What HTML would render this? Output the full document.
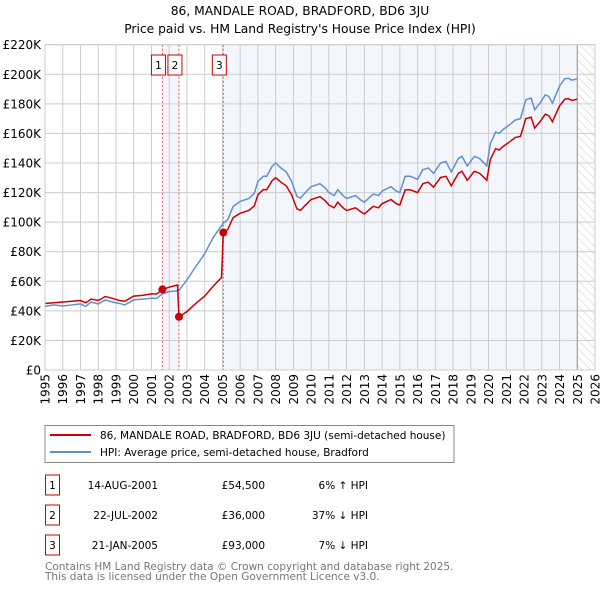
<!DOCTYPE html>
<html><head><meta charset="utf-8"><style>
body{margin:0;background:#fff;}
svg text{font-family:"DejaVu Sans","Liberation Sans",sans-serif;}
</style></head><body>
<svg id="chart" width="600" height="590" viewBox="0 0 600 590" xmlns="http://www.w3.org/2000/svg">
<text x="300" y="15" text-anchor="middle" font-size="12.3">86, MANDALE ROAD, BRADFORD, BD6 3JU</text>
<text x="300" y="33" text-anchor="middle" font-size="12.3">Price paid vs. HM Land Registry's House Price Index (HPI)</text>
<defs><pattern id="hatch" patternUnits="userSpaceOnUse" width="6" height="6" patternTransform="rotate(-45)"><line x1="0" y1="0" x2="0" y2="6" stroke="#ccc" stroke-width="1"/></pattern></defs>
<g id="plot"></g>
<g>
<rect x="45" y="425.5" width="409" height="37" fill="#fff" stroke="#888"/>
<line x1="50" y1="435" x2="91" y2="435" stroke="#cc0000" stroke-width="2"/>
<text x="100" y="439" font-size="10.5">86, MANDALE ROAD, BRADFORD, BD6 3JU (semi-detached house)</text>
<line x1="50" y1="452" x2="91" y2="452" stroke="#6090d0" stroke-width="2"/>
<text x="100" y="456" font-size="10.5">HPI: Average price, semi-detached house, Bradford</text>
</g>
<g id="table" font-size="10.5"></g>
<text x="45" y="570" font-size="10.5" fill="#777">Contains HM Land Registry data © Crown copyright and database right 2025.</text>
<text x="45" y="580" font-size="10.5" fill="#777">This data is licensed under the Open Government Licence v3.0.</text>
</svg>
<script>
const hpiYears=[1995,1995.5,1996,1996.5,1997,1997.3,1997.6,1998,1998.4,1998.8,1999.2,1999.5,2000,2000.5,2001,2001.3,2001.62,2002,2002.55,2003,2003.5,2004,2004.5,2005.05,2005.3,2005.6,2006,2006.5,2006.8,2007,2007.3,2007.5,2007.8,2008,2008.3,2008.6,2008.9,2009.2,2009.4,2009.6,2010,2010.5,2010.8,2011,2011.3,2011.5,2011.8,2012,2012.5,2012.8,2013,2013.5,2013.8,2014,2014.5,2014.8,2015,2015.3,2015.6,2016,2016.3,2016.6,2016.9,2017.3,2017.6,2017.9,2018.3,2018.5,2018.8,2019.2,2019.5,2019.9,2020.1,2020.4,2020.6,2020.8,2021.2,2021.5,2021.8,2022.1,2022.4,2022.6,2022.9,2023.2,2023.4,2023.6,2024,2024.3,2024.5,2024.7,2025];
const hpiValues=[43,44,43.3,44,44.7,43,46,44.7,47.4,46,45,44,47.4,47.9,48.5,48.5,51.5,53,53.7,61,70,78.6,90,99.3,101.6,110.6,114,116,119.6,127.5,131,131,137.7,140,136.6,134,127.5,117.4,116.3,119,124,126,123,120,118,122,118,116,118,115,113.5,119,118,121,124,121,120,131,131,129,135.5,136.6,133,140,141,134,143,144.5,138,144.5,143,138,153,161,160,162.5,166,169,170,182.7,184,176,180.5,186,185,180.5,192,197,197.3,196,197];
const priceYears=[1995,1996,1997,1997.3,1997.6,1998,1998.4,1998.8,1999.2,1999.5,2000,2000.5,2001,2001.3,2001.62,2002,2002.47,2002.55,2003,2003.5,2004,2004.5,2004.95,2005.05,2005.3,2005.6,2006,2006.5,2006.8,2007,2007.3,2007.5,2007.8,2008,2008.3,2008.6,2008.9,2009.2,2009.4,2009.6,2010,2010.5,2010.8,2011,2011.3,2011.5,2011.8,2012,2012.5,2012.8,2013,2013.5,2013.8,2014,2014.5,2014.8,2015,2015.3,2015.6,2016,2016.3,2016.6,2016.9,2017.3,2017.6,2017.9,2018.3,2018.5,2018.8,2019.2,2019.5,2019.9,2020.1,2020.4,2020.6,2020.8,2021.2,2021.5,2021.8,2022.1,2022.4,2022.6,2022.9,2023.2,2023.4,2023.6,2024,2024.3,2024.5,2024.7,2025];
const priceValues=[45,46,47,45.5,48,47,49.7,48.5,47,46.5,50,50.5,51.5,51.5,54.5,56,57.5,36,39.5,45,50,57,62.5,93,95,103,106,108,111,118.5,122,122,128,130,127,124.5,118.5,109,108,110.5,115.3,117.2,114.4,111.6,109.7,113.5,109.7,107.9,109.7,107,105.5,110.7,109.7,112.5,115.3,112.5,111.6,121.8,121.8,120,126,127,123.7,130.2,131,124.6,133,134.4,128.3,134.4,133,128.3,142.3,149.7,148.8,151,154.4,157.2,158,170,171,163.7,167.9,173,172,167.9,178.6,183.2,183.5,182.3,183.2];
const saleYears=[2001.62,2002.55,2005.05];
const saleValues=[54.5,36,93];
const saleLabels=["1","2","3"];
const saleDates=["14-AUG-2001","22-JUL-2002","21-JAN-2005"];
const salePrices=["£54,500","£36,000","£93,000"];
const saleHpi=["6% ↑ HPI","37% ↓ HPI","7% ↓ HPI"];
const yTicks=[0,20,40,60,80,100,120,140,160,180,200,220];
const yTickLabels=["£0","£20K","£40K","£60K","£80K","£100K","£120K","£140K","£160K","£180K","£200K","£220K"];
const xTicks=[1995,1996,1997,1998,1999,2000,2001,2002,2003,2004,2005,2006,2007,2008,2009,2010,2011,2012,2013,2014,2015,2016,2017,2018,2019,2020,2021,2022,2023,2024,2025,2026];
const dataEnd=2025.0;

const NS="http://www.w3.org/2000/svg";
const L=45,R=595,T=44.7,B=370,x0=1995,x1=2026,ymax=220;
const X=v=>L+(v-x0)/(x1-x0)*(R-L);
const Y=v=>B-v/ymax*(B-T);
const plot=document.getElementById('plot');
function mk(tag,attrs,parent){const e=document.createElementNS(NS,tag);for(const k in attrs)e.setAttribute(k,attrs[k]);(parent||plot).appendChild(e);return e;}
let e;
e=mk('rect',{x:X(saleYears[0]),y:T,width:X(saleYears[1])-X(saleYears[0]),height:B-T,fill:'#eef3fc',opacity:0.7});


e=mk('rect',{x:X(saleYears[2]),y:T,width:X(dataEnd)-X(saleYears[2]),height:B-T,fill:'#eef3fc',opacity:0.7});


e=mk('rect',{x:X(dataEnd),y:T,width:R-X(dataEnd),height:B-T,fill:'url(#hatch)'});


yTicks.forEach((v,i)=>{
 e=mk('line',{x1:L,x2:R,y1:Y(v),y2:Y(v),stroke:'#ccc','stroke-width':1});
 
 
 e=mk('text',{x:L-4,y:Y(v)+4.5,'text-anchor':'end','font-size':12});
 e.textContent=yTickLabels[i];
 
 
});
xTicks.forEach(v=>{
 e=mk('line',{x1:X(v),x2:X(v),y1:T,y2:B,stroke:'#ccc','stroke-width':1});
 
 
 e=mk('text',{x:0,y:0,'text-anchor':'end','font-size':12,transform:`translate(${X(v)+4.5},${B+4}) rotate(-90)`});
 e.textContent=v;
 
 
});
e=mk('line',{x1:X(dataEnd),x2:X(dataEnd),y1:T,y2:B,stroke:'#999','stroke-width':1});


saleYears.forEach((v,i)=>{
 e=mk('line',{x1:X(v),x2:X(v),y1:T,y2:B,stroke:'#ee5555','stroke-width':1,'stroke-dasharray':'2,2'});
 
 
});
e=mk('polyline',{points:hpiYears.map((t,i)=>X(t)+','+Y(hpiValues[i])).join(' '),fill:'none',stroke:'#6090d0','stroke-width':1.5});


e=mk('polyline',{points:priceYears.map((t,i)=>X(t)+','+Y(priceValues[i])).join(' '),fill:'none',stroke:'#cc0000','stroke-width':1.5});


saleYears.forEach((v,i)=>{
 e=mk('circle',{cx:X(v),cy:Y(saleValues[i]),r:4,fill:'#cc0000'});
 
 
 const off=-4;
 e=mk('rect',{x:X(v)+off-7,y:55,width:14,height:20,fill:'#fff',stroke:'#cc0000'});
 
 
 e=mk('text',{x:X(v)+off,y:69,'text-anchor':'middle','font-size':10.5});
 e.textContent=saleLabels[i];
 
 
});
e=mk('rect',{x:L,y:T,width:R-L,height:B-T,fill:'none',stroke:'#ccc'});


const tb=document.getElementById('table');
saleLabels.forEach((s,i)=>{
 const y=475+i*30;
 e=mk('rect',{x:45.5,y:y,width:14,height:20,fill:'#fff',stroke:'#cc0000'},tb);
 
 
 e=mk('text',{x:52.5,y:y+14,'text-anchor':'middle'},tb);e.textContent=s;
 
 
 e=mk('text',{x:158,y:y+14,'text-anchor':'end'},tb);e.textContent=saleDates[i];
 
 
 e=mk('text',{x:265,y:y+14,'text-anchor':'end'},tb);e.textContent=salePrices[i];
 
 
 e=mk('text',{x:368,y:y+14,'text-anchor':'end'},tb);e.textContent=saleHpi[i];
 
 
});
</script>
</body></html>
